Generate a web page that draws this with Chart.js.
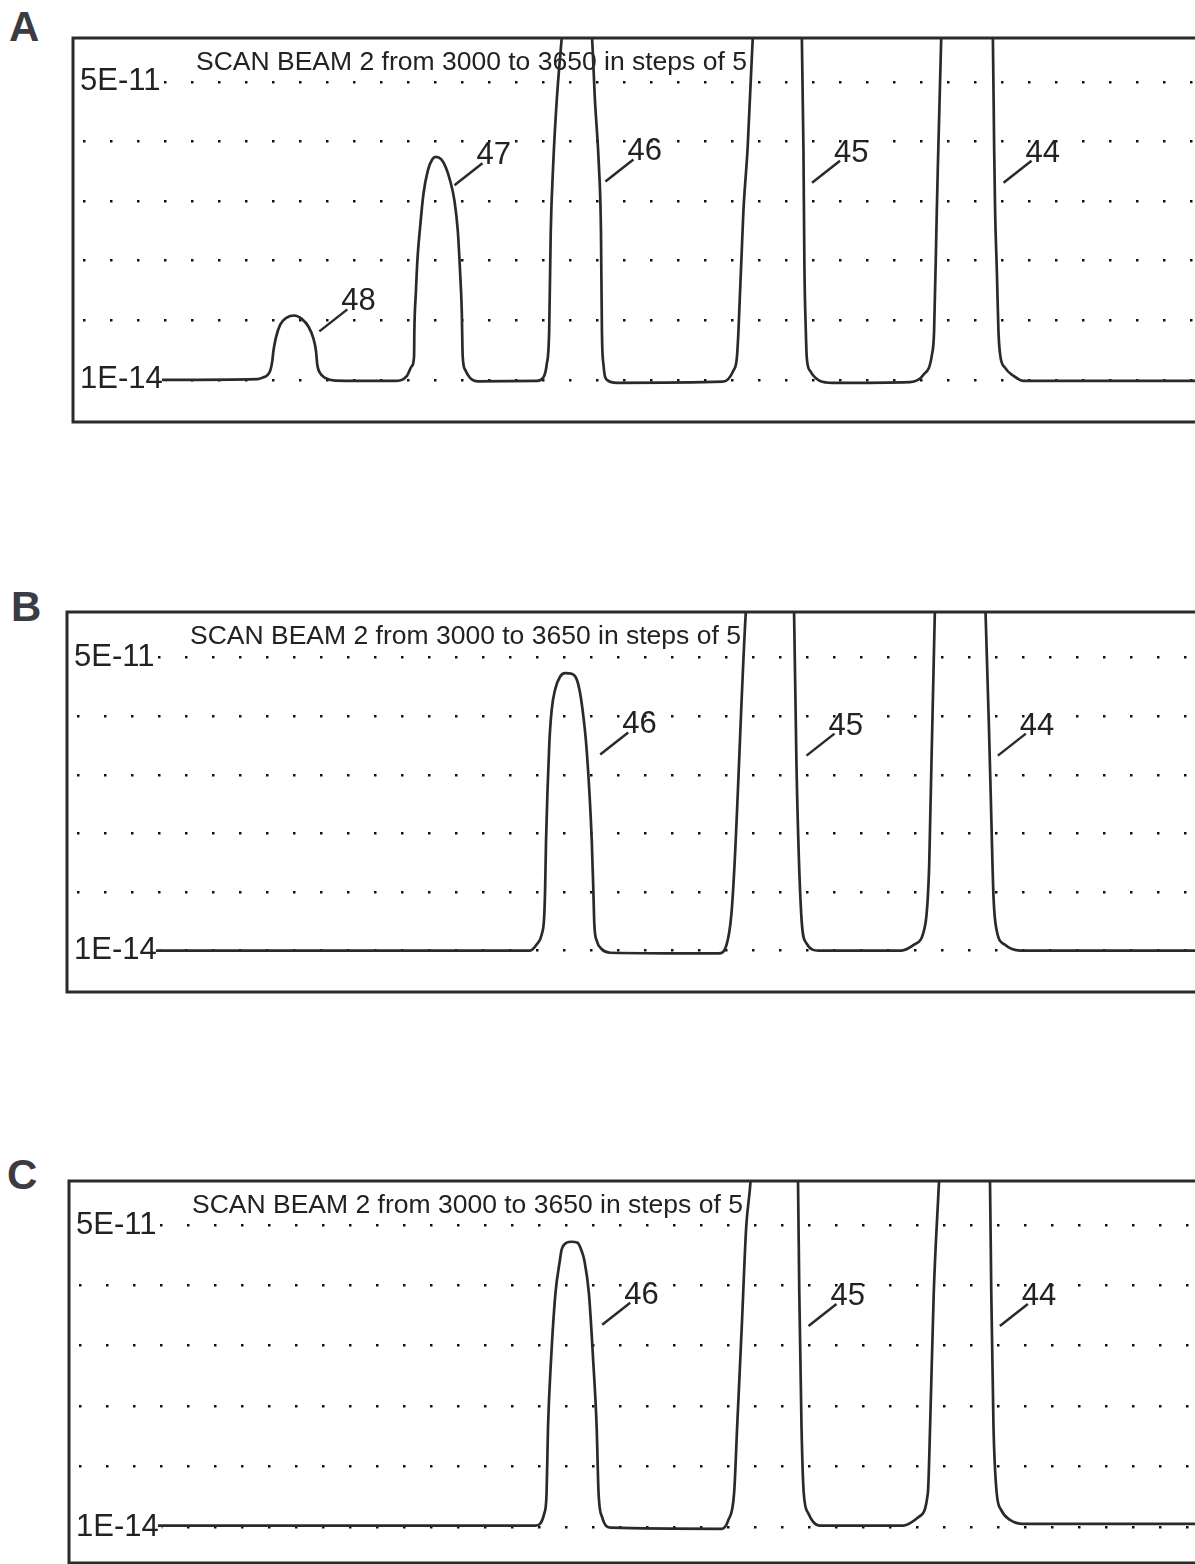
<!DOCTYPE html>
<html>
<head>
<meta charset="utf-8">
<title>SCAN BEAM 2</title>
<script src="https://cdn.jsdelivr.net/npm/chart.js@4.4.1/dist/chart.umd.min.js"></script>
<style>
  html, body { margin: 0; padding: 0; background: #fff; }
  body { width: 1195px; height: 1564px; position: relative; overflow: hidden; font-family: "Liberation Sans", Arial, sans-serif; }
  .letter { position: absolute; font-weight: bold; font-size: 42px; line-height: 42px; color: #3b3b44; }
  canvas { position: absolute; }
</style>
</head>
<body>
<div class="letter" style="left:9px;top:6px">A</div>
<div class="letter" style="left:11px;top:586px">B</div>
<div class="letter" style="left:7px;top:1154px">C</div>
<canvas id="panelA" width="1132" height="388" style="left:71px;top:36px"></canvas>
<canvas id="panelB" width="1132" height="384" style="left:65px;top:610px"></canvas>
<canvas id="panelC" width="1132" height="386" style="left:67px;top:1179px"></canvas>
<script>
// magnet steps shown across the plot, 3000..3650 is the scanned part
const stepMin = 2944;
const stepMax = 3655;

// dotted rows, evenly spaced in log between the two labelled currents
const gridTicks = [1e-14, 5.49e-14, 3.02e-13, 1.66e-12, 9.1e-12, 5e-11];
const tickLabels = ['1E-14', '', '', '', '', '5E-11'];
const scanTitle = 'SCAN BEAM 2 from 3000 to 3650 in steps of 5';

// [step, current (A)]; big peaks run off the top
const scanA = [
  [3000, 1.0e-14], [3060, 1.02e-14], [3062.9, 1.06e-14], [3068, 1.29e-14], [3069.4, 1.72e-14],
  [3070.1, 2.28e-14], [3071.6, 3.3e-14], [3074.3, 4.81e-14], [3078.5, 5.94e-14], [3083.3, 6.29e-14],
  [3087.9, 5.71e-14], [3092.1, 4.6e-14], [3095.2, 3.3e-14], [3096.9, 2.28e-14], [3097.7, 1.54e-14],
  [3099.4, 1.22e-14], [3102.6, 1.06e-14], [3108.9, 0.98e-14], [3146.6, 0.97e-14], [3154, 1.11e-14],
  [3157.2, 1.48e-14], [3158.6, 1.96e-14], [3158.8, 4.18e-14], [3159.7, 1.18e-13], [3160.7, 3.05e-13],
  [3162.4, 7.87e-13], [3164.5, 2.03e-12], [3167.2, 3.93e-12], [3170.1, 5.48e-12], [3172.3, 5.85e-12],
  [3175.6, 5.48e-12], [3178.6, 4.33e-12], [3181.3, 2.96e-12], [3184, 1.68e-12], [3186.1, 7.14e-13],
  [3187.5, 2.3e-13], [3188.6, 7.36e-14], [3189.2, 1.96e-14], [3190.7, 1.34e-14], [3193.8, 1.06e-14],
  [3199.1, 0.96e-14], [3236, 0.97e-14], [3239.8, 1.06e-14], [3242, 1.53e-14], [3243.6, 4.0e-14],
  [3244.6, 6.9e-13], [3246.1, 4.5e-12], [3248.4, 3.0e-11], [3251.5, 1.75e-10], [3252.5, 3e-10],
  [3269.5, 3e-10], [3270.6, 1.75e-10], [3272.4, 3.0e-11], [3274.9, 4.5e-12], [3276.2, 6.9e-13],
  [3276.8, 4.0e-14], [3277.8, 1.53e-14], [3280, 1.0e-14], [3286.4, 0.92e-14], [3353, 0.95e-14],
  [3359.4, 1.29e-14], [3361.7, 1.87e-14], [3362.7, 4.0e-14], [3365.8, 1.22e-12], [3368.5, 7.7e-12],
  [3371.7, 1.75e-10], [3372.5, 3e-10], [3402, 3e-10], [3402.6, 1.75e-10], [3403.6, 7.3e-12],
  [3404.2, 2.62e-13], [3405.1, 4.0e-14], [3405.7, 1.87e-14], [3407.8, 1.29e-14], [3414, 0.97e-14],
  [3422, 0.92e-14], [3470.7, 0.94e-14], [3479, 1.15e-14], [3484.4, 2.03e-14], [3485.8, 4.0e-14],
  [3487.5, 1.22e-12], [3490.2, 1.52e-10], [3491, 3e-10], [3522, 3e-10], [3522.8, 1.66e-10],
  [3523.6, 7.3e-12], [3524.2, 1.22e-12], [3525.3, 2.21e-13], [3526.3, 4.0e-14], [3527.4, 2.03e-14],
  [3530.5, 1.41e-14], [3535.8, 1.12e-14], [3542, 0.97e-14], [3655, 0.97e-14]
];

const scanB = [
  [3000, 1.0e-14], [3235.4, 1.0e-14], [3239.6, 1.2e-14], [3242.7, 1.6e-14], [3244.2, 2.59e-14],
  [3244.8, 5.6e-14], [3245.4, 2.37e-13], [3246.3, 1.0e-12], [3247.5, 4.25e-12], [3249, 1.11e-11],
  [3251.1, 1.98e-11], [3254.3, 2.9e-11], [3257.4, 3.2e-11], [3261.6, 3.13e-11], [3264.8, 2.64e-11],
  [3266.8, 1.8e-11], [3268.9, 9.1e-12], [3270.6, 4.25e-12], [3272.7, 1.0e-12], [3274.2, 2.37e-13],
  [3275.2, 5.6e-14], [3275.8, 2.14e-14], [3277.4, 1.32e-14], [3280.5, 1.04e-14], [3285.7, 0.94e-14],
  [3354, 0.92e-14], [3359, 1.19e-14], [3362, 2.83e-14], [3364, 1.2e-13], [3371, 1.72e-10],
  [3372, 3e-10], [3401, 3e-10], [3401.5, 1.72e-10], [3403, 2.14e-12], [3406, 2.83e-14],
  [3409, 1.26e-14], [3417, 1.0e-14], [3469, 1.0e-14], [3477, 1.19e-14], [3484, 2.12e-14],
  [3486.5, 1.2e-13], [3490, 1.72e-10], [3491, 3e-10], [3521, 3e-10], [3522, 1.72e-10],
  [3525, 1.35e-12], [3527, 4.6e-14], [3529, 1.78e-14], [3534, 1.19e-14], [3544, 1.0e-14],
  [3655, 1.0e-14]
];

const scanC = [
  [3000, 1.04e-14], [3237.6, 1.04e-14], [3243.1, 1.48e-14], [3244.5, 2.61e-14], [3245.4, 1.68e-13],
  [3247.3, 1.11e-12], [3250.1, 7.35e-12], [3252.9, 1.86e-11], [3253.9, 2.47e-11], [3255.7, 2.9e-11],
  [3259.9, 3.12e-11], [3264, 3.03e-11], [3266.8, 2.33e-11], [3268.2, 1.86e-11], [3271.1, 7.35e-12],
  [3273.8, 1.11e-12], [3276, 1.68e-13], [3277.2, 2.61e-14], [3279.4, 1.33e-14], [3285, 0.98e-14],
  [3354.7, 0.95e-14], [3358.9, 1.22e-14], [3362.5, 2.61e-14], [3364.4, 1.68e-13], [3367.3, 2.81e-12],
  [3370.1, 4.72e-11], [3372.8, 1.69e-10], [3373.5, 3e-10], [3402, 3e-10], [3402.7, 1.69e-10],
  [3403.5, 7.35e-12], [3404.9, 1.68e-13], [3406.3, 2.61e-14], [3409.1, 1.48e-14], [3416, 1.04e-14],
  [3469.1, 1.04e-14], [3478.9, 1.34e-14], [3484.4, 2.61e-14], [3485.8, 1.68e-13], [3488.1, 7.35e-12],
  [3491.4, 1.69e-10], [3492, 3e-10], [3523, 3e-10], [3523.5, 1.69e-10], [3524.3, 7.35e-12],
  [3525.7, 1.68e-13], [3527.7, 2.61e-14], [3530.5, 1.62e-14], [3536.1, 1.22e-14], [3544.4, 1.09e-14],
  [3655, 1.09e-14]
];

// mass labels and where their pointer lines start (step, current)
const massLabelsA = ['48', '47', '46', '45', '44'];
const leaderStepsA = [3099, 3184, 3279, 3409, 3529.5];
const leaderLevelsA = [4.0e-14, 2.6e-12, 2.9e-12, 2.8e-12, 2.8e-12];
const massLabelsBC = ['46', '45', '44'];
const leaderStepsBC = [3279.5, 3409.3, 3529.7];
const leaderLevelsBC = [3.0e-12, 2.9e-12, 2.9e-12];

const FONT = '"Liberation Sans", Arial, sans-serif';

function makeFrame(labels, steps, levels) {
  return {
    id: 'scanFrame',
    beforeDatasetsDraw(chart) {
      const { ctx, chartArea: a } = chart;
      ctx.save();
      ctx.font = '26.5px ' + FONT;
      ctx.fillStyle = '#222';
      ctx.textBaseline = 'alphabetic';
      ctx.fillText(scanTitle, a.left + 123, a.top + 32);
      ctx.restore();
    },
    afterDatasetsDraw(chart) {
      const { ctx, chartArea: a, scales: { x, y } } = chart;
      ctx.save();
      ctx.strokeStyle = '#2a2a2a';
      ctx.lineWidth = 2.5;
      ctx.font = '31px ' + FONT;
      ctx.fillStyle = '#222';
      ctx.textBaseline = 'alphabetic';
      labels.forEach((txt, i) => {
        const px = x.getPixelForValue(steps[i]);
        const py = y.getPixelForValue(levels[i]);
        ctx.beginPath();
        ctx.moveTo(px, py);
        ctx.lineTo(px + 28, py - 22);
        ctx.stroke();
        ctx.fillText(txt, px + 22, py - 21);
      });
      // box: top, left, bottom (right side is cut off by the page)
      ctx.lineWidth = 3;
      ctx.strokeStyle = '#2b2b2b';
      ctx.beginPath();
      ctx.moveTo(a.right + 5, a.top);
      ctx.lineTo(a.left, a.top);
      ctx.lineTo(a.left, a.bottom);
      ctx.lineTo(a.right + 5, a.bottom);
      ctx.stroke();
      ctx.restore();
    }
  };
}

function drawPanel(id, scan, yMin, yMax, labels, steps, levels) {
  return new Chart(document.getElementById(id), {
    type: 'line',
    data: {
      datasets: [{
        data: scan.map(p => ({ x: p[0], y: p[1] })),
        borderColor: '#2a2a2a',
        borderWidth: 2.7,
        pointRadius: 0,
        fill: false,
        cubicInterpolationMode: 'monotone'
      }]
    },
    options: {
      responsive: false,
      animation: false,
      layout: { padding: { left: 2, top: 2, bottom: 2, right: 0 } },
      plugins: { legend: { display: false }, tooltip: { enabled: false } },
      scales: {
        x: { type: 'linear', min: stepMin, max: stepMax, display: false },
        y: {
          type: 'logarithmic',
          min: yMin,
          max: yMax,
          afterBuildTicks: s => { s.ticks = gridTicks.map(v => ({ value: v })); },
          // labels sit inside the box, so the axis takes no room
          afterFit: s => { s.width = 0; s.paddingTop = 0; s.paddingBottom = 0; },
          grid: { color: '#111', lineWidth: 2.5, drawTicks: false },
          border: { display: false, dash: [2.5, 24.5], dashOffset: 17 },
          ticks: {
            mirror: true,
            padding: 7,
            color: '#222',
            font: { family: FONT, size: 31 },
            callback: (v, i) => tickLabels[i],
            showLabelBackdrop: c => !!tickLabels[c.index],
            backdropColor: '#fff',
            backdropPadding: 3
          }
        }
      }
    },
    plugins: [makeFrame(labels, steps, levels)]
  });
}

drawPanel('panelA', scanA, 3.21e-15, 1.75e-10, massLabelsA, leaderStepsA, leaderLevelsA);
drawPanel('panelB', scanB, 3.25e-15, 1.89e-10, massLabelsBC, leaderStepsBC, leaderLevelsBC);
drawPanel('panelC', scanC, 3.62e-15, 1.73e-10, massLabelsBC, leaderStepsBC, leaderLevelsBC);
</script>
</body>
</html>
